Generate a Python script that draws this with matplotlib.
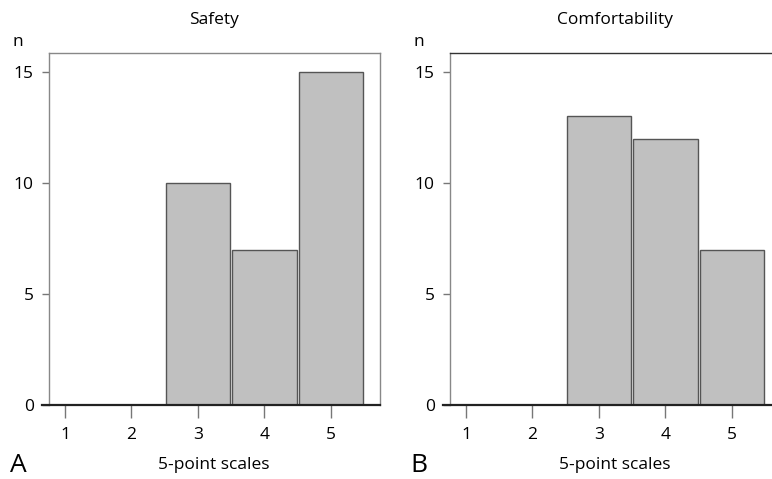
import numpy as np
import matplotlib.pyplot as plt

plt.rcParams['font.family'] = ['Open Sans', 'DejaVu Sans']

# 5-point scale answers, counts per category
scale_points = [1, 2, 3, 4, 5]
safety_counts = [0, 0, 10, 7, 15]
comfort_counts = [0, 0, 13, 12, 7]
y_ticks = [0, 5, 10, 15]

panels = [
    ("Safety", safety_counts, "A", 0.0635, '#888888'),
    ("Comfortability", comfort_counts, "B", 0.5829, '#333333'),
]

fig = plt.figure(figsize=(7.72, 4.79), dpi=100)

for title, counts, letter, left, top_color in panels:
    ax = fig.add_axes([left, 0.1545, 0.4288, 0.7349])
    ax.bar(scale_points, counts, width=0.97, color='#c0c0c0',
           edgecolor='#555555', linewidth=1.0, zorder=2)
    ax.set_xlim(0.76, 5.74)
    ax.set_ylim(0, 15.86)
    ax.set_xticks(scale_points)
    ax.set_yticks(y_ticks)
    ax.tick_params(axis='x', direction='out', length=9, width=1.0,
                   color='#777777', pad=7, labelsize=12.5)
    ax.tick_params(axis='y', direction='out', length=5, width=1.0,
                   color='#777777', pad=6, labelsize=12.5)
    for side in ['left', 'right', 'top']:
        ax.spines[side].set_color('#888888')
        ax.spines[side].set_linewidth(1.0)
    ax.spines['top'].set_color(top_color)
    ax.spines['bottom'].set_visible(False)
    # baseline reaches a little past the left edge of the box
    ax.plot([0.66, 5.74], [0, 0], color='#222222', lw=1.6,
            clip_on=False, zorder=3)

    # labels placed in figure coords, outside the axes
    x_mid = left + 0.4288 * (214 - 49) / (380 - 49)
    fig.text(x_mid, 1 - 20 / 479, title, ha='center', va='center', fontsize=12.5)
    fig.text(left - 0.04, 1 - 42 / 479, "n", ha='center', va='center', fontsize=12.5)
    fig.text(left - 0.04, 1 - 465 / 479, letter, ha='center', va='center', fontsize=19)
    fig.text(x_mid, 1 - 465 / 479, "5-point scales", ha='center', va='center', fontsize=12.5)

plt.savefig("out.png", dpi=100)
